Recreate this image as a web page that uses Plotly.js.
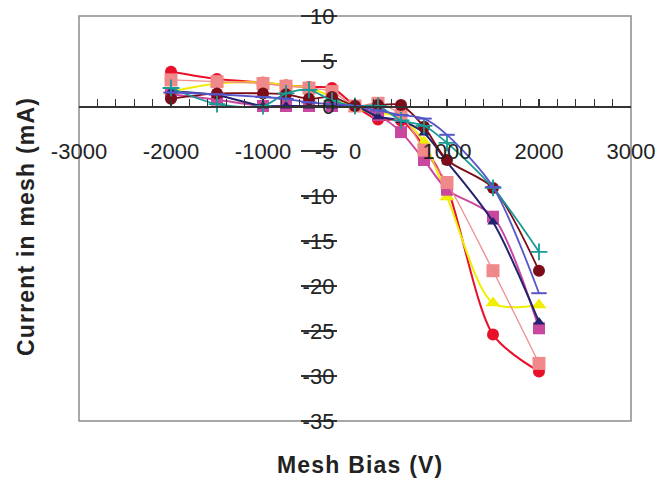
<!DOCTYPE html>
<html>
<head>
<meta charset="utf-8">
<script src="https://cdn.plot.ly/plotly-3.0.1.min.js"></script>
<style>
  html, body { margin: 0; padding: 0; background: #fff; }
  #chart { width: 660px; height: 479px; }
  .annotation-text { letter-spacing: 1.2px; }
</style>
</head>
<body>
<div id="chart"></div>
<script>
// Mesh bias (V)
const biasV = [-2000, -1500, -1000, -750, -500, -250, 0, 250, 500, 750, 1000, 1500, 2000];

// Current in mesh (mA), one array per run
const runRed     = [3.8, 3.0, 2.6, 2.3, 2.1, 2.0, 0.0, -1.5, -1.6, -4.5, -9.0, -25.4, -29.5];
const runYellow  = [1.6, 2.5, 2.6, 2.3, 2.0, 1.0, -0.3, -0.7, -1.3, -4.0, -10.1, -21.9, -22.1];
const runMagenta = [1.3, 0.7, 0.0, 0.0, 0.0, 0.0, 0.0, -1.0, -2.9, -6.0, -9.3, -12.3, -24.7];
const runNavy    = [1.6, 1.2, 0.0, 0.0, 0.0, 0.0, 0.0, -1.2, -1.6, -3.0, -6.2, -12.9, -24.0];
const runSalmon  = [2.9, 2.7, 2.5, 2.2, 2.0, 1.6, 0.0, 0.3, -1.0, -4.9, -8.5, -18.3, -28.6];
const runMaroon  = [0.8, 1.4, 1.4, 1.3, 0.8, 1.0, 0.0, 0.1, 0.1, -2.3, -6.0, -9.1, -18.3];
const runTeal    = [2.0, 0.2, 0.0, 1.4, 1.8, 0.6, 0.0, 0.0, -1.6, -2.2, -4.1, -9.1, -16.2];
const runBlue    = [1.5, 1.3, 1.0, 0.8, 0.4, 0.2, 0.0, -0.5, -1.0, -1.4, -3.2, -9.0, -20.8];

// Axis ticks
const xTicks = [-3000, -2000, -1000, 0, 1000, 2000, 3000];
const yTicks = [10, 5, 0, -5, -10, -15, -20, -25, -30, -35];

function series(y, color, symbol, size, lw, mline) {
  return {
    x: biasV, y: y, type: 'scatter', mode: 'lines+markers',
    line: {color: color, width: lw, shape: 'spline', smoothing: 0.8},
    marker: {color: color, symbol: symbol, size: size,
             line: mline ? {color: color, width: mline} : {width: 0}},
    showlegend: false, hoverinfo: 'x+y'
  };
}

const data = [
  series(runRed,     '#e8102a', 'circle',       12, 2,   0),
  series(runYellow,  '#f0ee00', 'triangle-up',  13, 2,   0),
  series(runMagenta, '#c9479e', 'square',       12, 2,   0),
  series(runNavy,    '#22226e', 'triangle-up',  10, 2,   0),
  series(runSalmon,  '#f08a8a', 'square',       13, 1.3, 0),
  series(runMaroon,  '#7c0c18', 'circle',       12, 1.8, 0),
  series(runTeal,    '#189a96', 'cross-thin',   12, 1.8, 1.8),
  series(runBlue,    '#5656c8', 'line-ew',      11, 1.8, 2)
];

const layout = {
  width: 660, height: 479,
  margin: {l: 79, r: 29, t: 16, b: 58},
  paper_bgcolor: '#ffffff', plot_bgcolor: '#ffffff',
  font: {family: 'Liberation Sans, Arial, sans-serif', color: '#222'},
  xaxis: {
    range: [-3000, 3000], tickvals: xTicks, ticktext: xTicks.map(String),
    anchor: 'free', position: 35 / 45,
    showline: true, linecolor: '#333', linewidth: 1.5,
    ticks: 'inside', ticklen: 7, tickcolor: '#333', tickwidth: 1.2,
    minor: {dtick: 200, tick0: 0, ticks: 'inside', ticklen: 7, tickcolor: '#333', tickwidth: 1.2},
    ticklabelstandoff: 25,
    tickfont: {size: 22, color: '#222'},
    showgrid: false, zeroline: false, fixedrange: true
  },
  yaxis: {
    range: [-35, 10], tickvals: yTicks, ticktext: yTicks.map(String),
    anchor: 'free', position: 0.467,
    showline: false,
    ticks: 'outside', ticklen: 36, tickcolor: '#333', tickwidth: 1.2,
    ticklabelstandoff: -38,
    tickfont: {size: 22, color: '#222'},
    showgrid: false, zeroline: false, fixedrange: true
  },
  shapes: [{
    type: 'rect', xref: 'paper', yref: 'paper', x0: 0, x1: 1, y0: 0, y1: 1,
    line: {color: '#8c8c8c', width: 1.5}, layer: 'below'
  }],
  annotations: [
    {text: '<b>Mesh Bias (V)</b>', xref: 'paper', yref: 'paper', x: 0.509, y: -0.109,
     showarrow: false, font: {size: 23, color: '#222'}, xanchor: 'center', yanchor: 'middle'},
    {text: '<b>Current in mesh (mA)</b>', xref: 'paper', yref: 'paper', x: -0.097, y: 0.48,
     showarrow: false, textangle: -90, font: {size: 23, color: '#222'}, xanchor: 'center', yanchor: 'middle'}
  ]
};

Plotly.newPlot('chart', data, layout, {displayModeBar: false, staticPlot: true});
</script>
</body>
</html>
